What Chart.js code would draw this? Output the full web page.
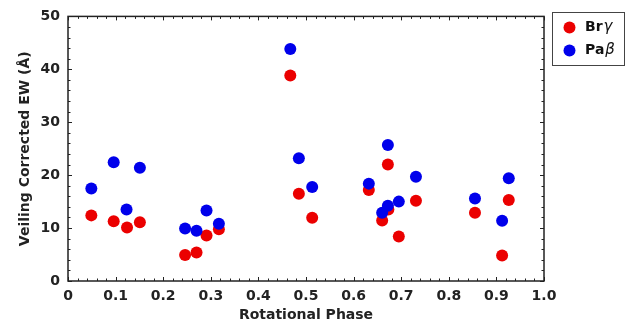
<!DOCTYPE html>
<html>
<head>
<meta charset="utf-8">
<script src="https://cdn.jsdelivr.net/npm/chart.js@4"></script>
<style>
  html, body { margin: 0; padding: 0; background: #fff; }
  #wrap { width: 640px; height: 329px; position: relative; }
</style>
</head>
<body>
<div id="wrap"><canvas id="c"></canvas></div>
<script>
// rotational phase and veiling-corrected EW
const phaseBrg = [0.049, 0.096, 0.124, 0.151, 0.246, 0.270, 0.291, 0.317, 0.467, 0.485, 0.513,
                  0.632, 0.672, 0.660, 0.673, 0.695, 0.731, 0.855, 0.912, 0.926];
const ewBrg    = [12.4, 11.3, 10.1, 11.1, 4.9, 5.4, 8.6, 9.8, 38.85, 16.5, 11.95,
                  17.2, 22.0, 11.45, 13.5, 8.4, 15.15, 12.9, 4.8, 15.3];
const phasePab = [0.049, 0.096, 0.123, 0.151, 0.246, 0.270, 0.291, 0.317, 0.467, 0.485, 0.513,
                  0.632, 0.672, 0.660, 0.672, 0.695, 0.731, 0.855, 0.912, 0.926];
const ewPab    = [17.5, 22.45, 13.5, 21.4, 9.9, 9.5, 13.3, 10.8, 43.85, 23.2, 17.75,
                  18.4, 25.7, 12.9, 14.2, 15.0, 19.7, 15.6, 11.4, 19.4];

const xTicks = [0, 0.1, 0.2, 0.3, 0.4, 0.5, 0.6, 0.7, 0.8, 0.9, 1.0];
const yTicks = [0, 10, 20, 30, 40, 50];

const FONT = "'DejaVu Sans', sans-serif";
const RED = "rgb(235,0,0)", BLUE = "rgb(0,0,235)", INK = "#222";

const pts = (xs, ys) => xs.map((x, i) => ({ x, y: ys[i] }));

// frame with inward major/minor ticks on all four sides
const frameTicks = {
  id: "frameTicks",
  afterDatasetsDraw(chart) {
    const { ctx, chartArea: a, scales: { x, y } } = chart;
    ctx.save();
    ctx.strokeStyle = INK;
    ctx.lineWidth = 1;
    const tick = (x0, y0, x1, y1) => { ctx.beginPath(); ctx.moveTo(x0, y0); ctx.lineTo(x1, y1); ctx.stroke(); };
    for (let i = 0; i <= 50; i++) {
      const px = Math.round(x.getPixelForValue(i * 0.02)) + 0.5;
      const len = i % 5 === 0 ? 4 : 2.5;
      tick(px, a.bottom, px, a.bottom - len);
      tick(px, a.top, px, a.top + len);
    }
    for (let i = 0; i <= 25; i++) {
      const py = Math.round(y.getPixelForValue(i * 2)) + 0.5;
      const len = i % 5 === 0 ? 4 : 2.5;
      tick(a.left, py, a.left + len, py);
      tick(a.right, py, a.right - len, py);
    }
    ctx.lineWidth = 1.5;
    ctx.strokeRect(a.left, a.top, a.right - a.left, a.bottom - a.top);
    ctx.restore();
  },
};

// boxed legend with bold name and italic greek letter
const boxLegend = {
  id: "boxLegend",
  afterDraw(chart) {
    const ctx = chart.ctx;
    const items = [["Br", "\u03b3"], ["Pa", "\u03b2"]];
    ctx.save();
    ctx.fillStyle = "#fff";
    ctx.fillRect(552.5, 12.5, 72, 53);
    ctx.strokeStyle = "#444";
    ctx.lineWidth = 1;
    ctx.strokeRect(552.5, 12.5, 72, 53);
    chart.data.datasets.forEach((ds, i) => {
      const cy = 27.5 + i * 23;
      ctx.fillStyle = ds.backgroundColor;
      ctx.beginPath(); ctx.arc(569.5, cy, 6, 0, Math.PI * 2); ctx.fill();
      ctx.fillStyle = "#111";
      ctx.textBaseline = "middle";
      ctx.font = "bold 14px " + FONT;
      ctx.fillText(items[i][0], 585, cy);
      const w = ctx.measureText(items[i][0]).width;
      ctx.font = "italic 15px " + FONT;
      ctx.fillText(items[i][1], 586 + w, cy);
    });
    ctx.restore();
  },
};

new Chart(document.getElementById("c"), {
  type: "scatter",
  data: {
    datasets: [
      { label: "Br\u03b3", data: pts(phaseBrg, ewBrg), backgroundColor: RED, borderWidth: 0, pointRadius: 6, order: 1 },
      { label: "Pa\u03b2", data: pts(phasePab, ewPab), backgroundColor: BLUE, borderWidth: 0, pointRadius: 6, order: 0 },
    ],
  },
  options: {
    responsive: true, maintainAspectRatio: false, animation: false,
    layout: { padding: { left: 0, right: 96, top: 12, bottom: 0 } },
    plugins: { legend: { display: false }, tooltip: { enabled: false } },
    scales: {
      x: {
        type: "linear", min: 0, max: 1,
        afterFit: (s) => { s.height = 48; },
        afterBuildTicks: (s) => { s.ticks = xTicks.map((v) => ({ value: v })); },
        grid: { display: false, drawTicks: false },
        border: { display: false },
        ticks: { color: INK, padding: 7, font: { family: FONT, size: 14, weight: "bold" },
                 maxRotation: 0, autoSkip: false,
                 callback: (v) => (v === 0 ? "0" : v.toFixed(1)) },
        title: { display: true, text: "Rotational Phase", color: INK,
                 font: { family: FONT, size: 14, weight: "bold" }, padding: { top: 0, bottom: 5 } },
      },
      y: {
        type: "linear", min: 0, max: 50,
        afterFit: (s) => { s.width = 68; },
        afterBuildTicks: (s) => { s.ticks = yTicks.map((v) => ({ value: v })); },
        grid: { display: false, drawTicks: false },
        border: { display: false },
        ticks: { color: INK, padding: 8, font: { family: FONT, size: 14, weight: "bold" } },
        title: { display: true, text: "Veiling Corrected EW (\u00c5)", color: INK,
                 font: { family: FONT, size: 14, weight: "bold" }, padding: { top: 17, bottom: 0 } },
      },
    },
  },
  plugins: [frameTicks, boxLegend],
});
</script>
</body>
</html>
